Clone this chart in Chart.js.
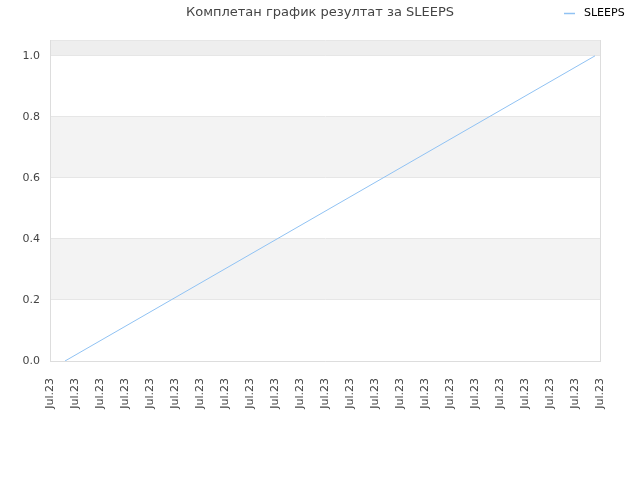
<!DOCTYPE html>
<html>
<head>
<meta charset="utf-8">
<script src="https://cdn.jsdelivr.net/npm/chart.js@4.4.0/dist/chart.umd.min.js"></script>
<style>
    html, body { margin: 0; padding: 0; background: #fff; }
    #wrap { width: 640px; height: 480px; }
</style>
</head>
<body>
<div id="wrap"><canvas id="chart" width="640" height="480"></canvas></div>
<script>
// tick labels along the x axis (23 slots, all the same month label)
const xTickLabels = ['Jul.23', 'Jul.23', 'Jul.23', 'Jul.23', 'Jul.23', 'Jul.23', 'Jul.23', 'Jul.23',
    'Jul.23', 'Jul.23', 'Jul.23', 'Jul.23', 'Jul.23', 'Jul.23', 'Jul.23', 'Jul.23',
    'Jul.23', 'Jul.23', 'Jul.23', 'Jul.23', 'Jul.23', 'Jul.23', 'Jul.23'];
// series: position along the x slots and the score
const sleepsX = [0.6, 21.8];
const sleepsY = [0, 1];

const seriesName = 'SLEEPS';
const lineColor = '#90c2f3';
const font = "'DejaVu Sans', sans-serif";

const bandsPlugin = {
    id: 'bands',
    beforeDraw(chart) {
        // alternating bands behind the grid lines
        const { ctx, chartArea, scales } = chart;
        const ticks = scales.y.ticks.map((t) => t.value);
        ctx.save();
        for (let i = 1; i < ticks.length; i += 2) {
            const top = scales.y.getPixelForValue(ticks[i + 1] !== undefined ? ticks[i + 1] : scales.y.max);
            const bottom = scales.y.getPixelForValue(ticks[i]);
            ctx.fillStyle = ticks[i] >= 1 ? '#eeeeee' : '#f3f3f3';
            ctx.fillRect(chartArea.left, top, chartArea.right - chartArea.left, bottom - top);
        }
        ctx.restore();
    },
    afterDraw(chart) {
        // legend in the title row, top right
        const { ctx } = chart;
        const ds = chart.data.datasets[0];
        ctx.save();
        ctx.strokeStyle = ds.borderColor;
        ctx.lineWidth = 1.5;
        ctx.beginPath();
        ctx.moveTo(564, 13.5);
        ctx.lineTo(575, 13.5);
        ctx.stroke();
        ctx.fillStyle = '#000';
        ctx.font = `11px ${font}`;
        ctx.textBaseline = 'middle';
        ctx.fillText(ds.label, 584, 13);
        ctx.restore();
    },
};

new Chart(document.getElementById('chart'), {
    type: 'line',
    data: {
        datasets: [{
            label: seriesName,
            data: sleepsX.map((x, i) => ({ x, y: sleepsY[i] })),
            borderColor: lineColor,
            borderWidth: 1,
            pointRadius: 0,
            fill: false,
            tension: 0,
        }],
    },
    options: {
        responsive: false,
        animation: false,
        layout: { padding: 0 },
        scales: {
            x: {
                type: 'linear',
                min: 0,
                max: xTickLabels.length - 1,
                ticks: {
                    stepSize: 1,
                    autoSkip: false,
                    minRotation: 90,
                    maxRotation: 90,
                    padding: 9,
                    color: '#444',
                    font: { family: font, size: 11 },
                    callback: (value) => xTickLabels[value],
                },
                grid: { display: false },
                border: { color: '#dddddd' },
                afterFit: (scale) => { scale.height = 119; },
            },
            y: {
                min: 0,
                max: 1.05,
                ticks: {
                    stepSize: 0.2,
                    padding: 10,
                    color: '#444',
                    font: { family: font, size: 11 },
                    callback: (value) => (Math.abs(value * 5 - Math.round(value * 5)) < 1e-6 ? value.toFixed(1) : ''),
                },
                grid: { color: '#e6e6e6', drawTicks: false },
                border: { color: '#dddddd' },
                afterFit: (scale) => { scale.width = 50; },
            },
            y2: {
                position: 'right',
                min: 0,
                max: 1.05,
                ticks: { display: false },
                grid: { display: false },
                border: { color: '#dddddd' },
                afterFit: (scale) => { scale.width = 40; },
            },
        },
        plugins: {
            legend: { display: false },
            tooltip: { enabled: false },
            title: {
                display: true,
                text: 'Комплетан график резултат за SLEEPS',
                color: '#444',
                font: { family: font, size: 13, weight: 'normal' },
                padding: { top: 5, bottom: 20 },
            },
        },
    },
    plugins: [bandsPlugin],
});
</script>
</body>
</html>
